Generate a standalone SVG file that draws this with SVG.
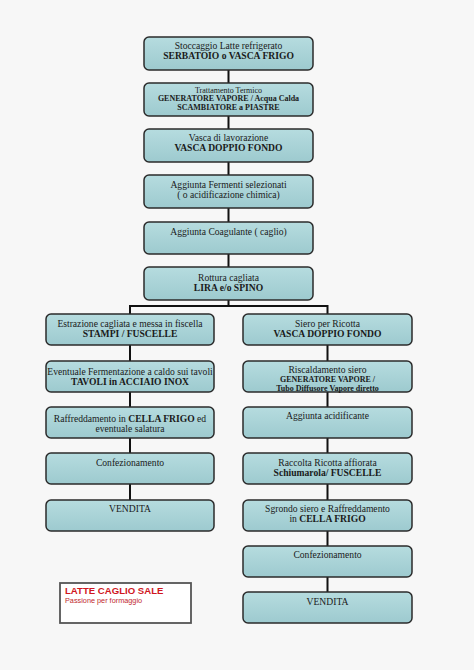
<svg xmlns="http://www.w3.org/2000/svg" width="474" height="670" viewBox="0 0 474 670">
<defs>
<linearGradient id="g" x1="0" y1="0" x2="0" y2="1">
<stop offset="0" stop-color="#b6dcdf"/>
<stop offset="1" stop-color="#9dcacf"/>
</linearGradient>
</defs>
<style>
.b{fill:url(#g);stroke:#2b2b2b;stroke-width:1.5}
.t{font-family:"Liberation Serif","Times New Roman",serif;font-size:9.6px;fill:#1a1a1a;text-anchor:middle}
.s{font-size:8px}
.k{font-weight:bold}
.c{fill:none;stroke:#111;stroke-width:2}
</style>
<rect width="474" height="670" fill="#f7f7f7"/>
<g id="connectors">
<path class="c" d="M228.5 70V83M228.5 116V129M228.5 162V175M228.5 208V222M228.5 254V267M228.5 300V306M129 306H328M130 305V314M130 345V361M130 392V407M130 438V453M130 484V500M327.5 305V314M327.5 345V361M327.5 392V407M327.5 438V453M327.5 484V500M327.5 531V546M327.5 577V592"/>
</g>
<g id="n1"><rect class="b" x="144" y="37" width="169" height="33" rx="5"/>
<text class="t" x="228.5" y="48.5">Stoccaggio Latte refrigerato</text>
<text class="t k" x="228.5" y="59">SERBATOIO o VASCA FRIGO</text></g>
<g id="n2"><rect class="b" x="144" y="83" width="169" height="33" rx="5"/>
<text class="t s" x="228.5" y="92.8">Trattamento Termico</text>
<text class="t s k" x="228.5" y="101">GENERATORE VAPORE / Acqua Calda</text>
<text class="t s k" x="228.5" y="109.8">SCAMBIATORE a PIASTRE</text></g>
<g id="n3"><rect class="b" x="144" y="129" width="169" height="33" rx="5"/>
<text class="t" x="228.5" y="140.5">Vasca di lavorazione</text>
<text class="t k" x="228.5" y="150.5">VASCA DOPPIO FONDO</text></g>
<g id="n4"><rect class="b" x="144" y="175" width="169" height="33" rx="5"/>
<text class="t" x="228.5" y="187.5">Aggiunta Fermenti selezionati</text>
<text class="t" x="228.5" y="197.5">( o acidificazione chimica)</text></g>
<g id="n5"><rect class="b" x="144" y="222" width="169" height="32" rx="5"/>
<text class="t" x="228.5" y="234.5">Aggiunta Coagulante ( caglio)</text></g>
<g id="n6"><rect class="b" x="144" y="267" width="169" height="33" rx="5"/>
<text class="t" x="228.5" y="280.5">Rottura cagliata</text>
<text class="t k" x="228.5" y="290.5">LIRA e/o SPINO</text></g>
<g id="l1"><rect class="b" x="46" y="314" width="168" height="31" rx="5"/>
<text class="t" x="130" y="326.5">Estrazione cagliata e messa in fiscella</text>
<text class="t k" x="130" y="336.5">STAMPI / FUSCELLE</text></g>
<g id="l2"><rect class="b" x="46" y="361" width="168" height="31" rx="5"/>
<text class="t" x="130" y="375.3">Eventuale Fermentazione a caldo sui tavoli</text>
<text class="t k" x="130" y="385">TAVOLI in ACCIAIO INOX</text></g>
<g id="l3"><rect class="b" x="46" y="407" width="168" height="31" rx="5"/>
<text class="t" x="130" y="421.5">Raffreddamento in <tspan class="k">CELLA FRIGO</tspan> ed</text>
<text class="t" x="130" y="431.5">eventuale salatura</text></g>
<g id="l4"><rect class="b" x="46" y="453" width="168" height="31" rx="5"/>
<text class="t" x="130" y="465.5">Confezionamento</text></g>
<g id="l5"><rect class="b" x="46" y="500" width="168" height="31" rx="5"/>
<text class="t" x="130" y="511.5">VENDITA</text></g>
<g id="r1"><rect class="b" x="243" y="314" width="169" height="31" rx="5"/>
<text class="t" x="327.5" y="326.5">Siero per Ricotta</text>
<text class="t k" x="327.5" y="336.5">VASCA DOPPIO FONDO</text></g>
<g id="r2"><rect class="b" x="243" y="361" width="169" height="31" rx="5"/>
<text class="t" x="327.5" y="373.3">Riscaldamento siero</text>
<text class="t s k" x="327.5" y="381.8">GENERATORE VAPORE /</text>
<text class="t s k" x="327.5" y="390.8">Tubo Diffusore Vapore diretto</text></g>
<g id="r3"><rect class="b" x="243" y="407" width="169" height="31" rx="5"/>
<text class="t" x="327.5" y="418.5">Aggiunta acidificante</text></g>
<g id="r4"><rect class="b" x="243" y="453" width="169" height="31" rx="5"/>
<text class="t" x="327.5" y="465.5">Raccolta Ricotta affiorata</text>
<text class="t k" x="327.5" y="475.5">Schiumarola/ FUSCELLE</text></g>
<g id="r5"><rect class="b" x="243" y="500" width="169" height="31" rx="5"/>
<text class="t" x="327.5" y="511.5">Sgrondo siero e Raffreddamento</text>
<text class="t" x="327.5" y="522">in <tspan class="k">CELLA FRIGO</tspan></text></g>
<g id="r6"><rect class="b" x="243" y="546" width="169" height="31" rx="5"/>
<text class="t" x="327.5" y="557.5">Confezionamento</text></g>
<g id="r7"><rect class="b" x="243" y="592" width="169" height="31" rx="5"/>
<text class="t" x="327.5" y="604.5">VENDITA</text></g>
<g id="logo"><rect x="60" y="583" width="131" height="40" fill="#fff" stroke="#555" stroke-width="1.8"/>
<text x="65" y="594" font-family="Liberation Sans,Arial,sans-serif" font-size="9.6" font-weight="bold" fill="#d0161e">LATTE CAGLIO SALE</text>
<text x="65" y="603" font-family="Liberation Sans,Arial,sans-serif" font-size="7.3" fill="#c0282e">Passione per formaggio</text></g>
</svg>
